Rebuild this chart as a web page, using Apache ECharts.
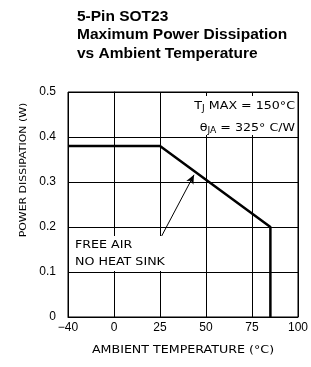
<!DOCTYPE html>
<html><head><meta charset="utf-8">
<script src="https://cdn.jsdelivr.net/npm/echarts@6/dist/echarts.min.js"></script>
<style>html,body{margin:0;padding:0;background:#fff}#c{width:311px;height:367px}</style>
</head><body><div id="c"></div>
<script>
var titleLines = ['5-Pin SOT23', 'Maximum Power Dissipation', 'vs Ambient Temperature'];
var xTicks = [-40, 0, 25, 50, 75, 100];
var yTicks = [0, 0.1, 0.2, 0.3, 0.4, 0.5];
var curveTemp = [-40, 25, 85, 85];
var curvePower = [0.38, 0.38, 0.2, 0];
var arrowFrom = [25, 0.173];
var arrowTo = [43.5, 0.316];
var xTitle = 'AMBIENT TEMPERATURE (°C)';
var yTitle = 'POWER DISSIPATION (W)';
var noteLines = ['FREE AIR', 'NO HEAT SINK'];

// The reference axis spaces -40..0 like 25 degrees
function tx(t){ return t < 0 ? t * 25 / 40 : t; }
function untx(v){ return v < 0 ? v * 40 / 25 : v; }

var chart = echarts.init(document.getElementById('c'));
var curve = curveTemp.map(function(t,i){ return [tx(t), curvePower[i]]; });
var lblFont = 'Liberation Sans, Arial, sans-serif';
var SX = 1.15;
chart.setOption({
  animation:false,
  title:{ text: titleLines.join('\n'), left:77, top:7, padding:0,
    textStyle:{ fontFamily:lblFont, fontWeight:'bold', fontSize:15.5, lineHeight:18.5, color:'#000'} },
  grid:{ left:68, right:13, top:92, bottom:50, show:true, borderColor:'#000', borderWidth:1 },
  xAxis:{ type:'value', min:tx(xTicks[0]), max:tx(xTicks[xTicks.length-1]), interval:25,
    axisLine:{ show:true, lineStyle:{color:'#000', width:1}}, axisTick:{show:false},
    axisLabel:{ fontFamily:lblFont, fontSize:12, color:'#000', margin:5,
      formatter:function(v){ var t = Math.round(untx(v)); return t < 0 ? '\u2212' + Math.abs(t) : String(t); } },
    splitLine:{ show:true, lineStyle:{color:'#000', width:1}} },
  yAxis:{ type:'value', min:yTicks[0], max:yTicks[yTicks.length-1], interval:0.1,
    axisLine:{ show:true, lineStyle:{color:'#000', width:1}}, axisTick:{show:false},
    axisLabel:{ fontFamily:lblFont, fontSize:12, color:'#000', margin:12,
      formatter:function(v){ return v === 0 ? '0' : v.toFixed(1); } },
    splitLine:{ show:true, lineStyle:{color:'#000', width:1}} },
  graphic:[
    { type:'text', rotation:Math.PI/2, x:24, y:170, scaleX:SX,
      style:{ text:yTitle, font:'9.5px DejaVu Sans', fill:'#000', align:'center', verticalAlign:'middle'} },
    { type:'text', x:183, y:350, scaleX:SX,
      style:{ text:xTitle, font:'11px DejaVu Sans', fill:'#000', align:'center', verticalAlign:'middle'} },
    { type:'rect', shape:{x:186, y:96, width:110, height:39}, style:{fill:'#fff'}, z:50 },
    { type:'text', x:295, y:106, z:51, scaleX:SX,
      style:{ text:'{a|T}{s|J}{a| MAX = 150°C}', align:'right', verticalAlign:'middle',
        rich:{ a:{font:'11px DejaVu Sans', fill:'#000'}, s:{font:'8px DejaVu Sans', fill:'#000', padding:[6,0,0,0]} } } },
    { type:'text', x:295, y:128, z:51, scaleX:SX,
      style:{ text:'{a|θ}{s|JA}{a| = 325° C/W}', align:'right', verticalAlign:'middle',
        rich:{ a:{font:'11px DejaVu Sans', fill:'#000'}, s:{font:'8px DejaVu Sans', fill:'#000', padding:[6,0,0,0]} } } },
    { type:'rect', shape:{x:71, y:236, width:100, height:35}, style:{fill:'#fff'}, z:50 },
    { type:'text', x:75, y:245, z:51, scaleX:SX, style:{ text:noteLines[0], font:'11px DejaVu Sans', fill:'#000', verticalAlign:'middle'} },
    { type:'text', x:75, y:262, z:51, scaleX:SX, style:{ text:noteLines[1], font:'11px DejaVu Sans', fill:'#000', verticalAlign:'middle'} }
  ],
  series:[{
    type:'line', data:curve, symbol:'none', lineStyle:{color:'#000', width:2.5}, z:60,
    markLine:{ silent:true, symbol:['none','arrow'], symbolSize:[6,9], label:{show:false},
      lineStyle:{ color:'#000', width:1, type:'solid'},
      data:[[ {coord:[tx(arrowFrom[0]), arrowFrom[1]]}, {coord:[tx(arrowTo[0]), arrowTo[1]]} ]] }
  }]
});
</script></body></html>
